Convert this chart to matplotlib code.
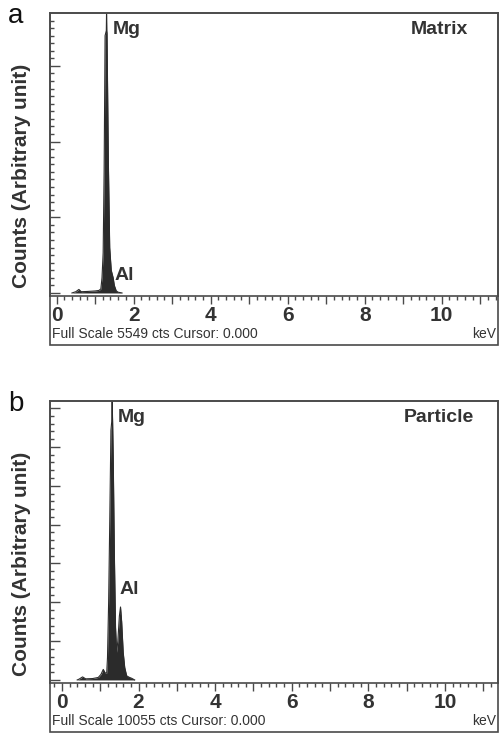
import matplotlib
matplotlib.use("Agg")
import matplotlib.pyplot as plt
from matplotlib.patches import Rectangle
from matplotlib.ticker import MultipleLocator, FixedLocator, FixedFormatter

plt.rcParams['font.family'] = ['Liberation Sans', 'DejaVu Sans']

# spectrum a (Matrix): energy in keV, counts
energy_a = [0.40, 0.50, 0.58, 0.64, 0.80, 1.00, 1.10, 1.15, 1.18, 1.21, 1.235,
            1.26, 1.292, 1.298, 1.304, 1.31, 1.345, 1.38, 1.42, 1.47, 1.50, 1.55,
            1.60, 1.70]
counts_a = [0, 25, 70, 25, 30, 40, 50, 80, 300, 800, 2400,
            5100, 5200, 5549, 5200, 5150, 2600, 900, 450, 300, 150, 40,
            15, 0]

# spectrum b (Particle)
energy_b = [0.40, 0.45, 0.54, 0.62, 0.80, 0.95, 1.02, 1.08, 1.13, 1.17, 1.19,
            1.22, 1.25, 1.28, 1.30, 1.312, 1.324, 1.34, 1.37, 1.40, 1.43, 1.46, 1.50,
            1.53, 1.56, 1.60, 1.64, 1.69, 1.75, 1.82, 1.90]
counts_b = [0, 30, 110, 40, 50, 90, 200, 380, 250, 250, 800,
            2800, 5800, 9000, 9300, 10055, 9300, 8000, 4500, 1900, 1000, 1400, 2300,
            2630, 2100, 1000, 450, 150, 100, 60, 0]

full_scale = [5549, 10055]
panel_letters = ['a', 'b']
sample_names = ['Matrix', 'Particle']
x_ticks = [0, 1, 2, 3, 4, 5, 6, 7, 8, 9, 10, 11]
x_tick_labels = ['0', '', '2', '', '4', '', '6', '', '8', '', '10', '']

W, H = 499, 735
fig = plt.figure(figsize=(W / 100, H / 100), dpi=100)
ink = '#333333'
edge = '#4a4a4a'

# pixel layout per panel: box top, axis line, box bottom
layout = [(13, 296, 345), (401, 683, 732)]
xlims = [(-0.17, 11.46), (-0.31, 11.38)]
ylims = [(-60, 5549), (-110, 10055)]
ymajor = [1500, 1400]
yminor = [150, 280]
peaks = [((113, 29), (115, 275)), ((118, 418), (120, 590))]
name_pos = [(468, 30), (474, 418)]

spectra = [(energy_a, counts_a), (energy_b, counts_b)]

for i in range(2):
    top, axis_y, bottom = layout[i]
    left, right = 50, 498
    ax = fig.add_axes([left / W, 1 - axis_y / H, (right - left) / W, (axis_y - top) / H])
    e, c = spectra[i]
    ax.fill_between(e, 0, c, color='#2b2b2b', lw=0)
    ax.plot(e, c, color='#2b2b2b', lw=0.8)
    ax.set_xlim(*xlims[i])
    ax.set_ylim(*ylims[i])

    for s in ax.spines.values():
        s.set_color(edge)
        s.set_linewidth(1.2)

    ax.xaxis.set_major_locator(FixedLocator(x_ticks))
    ax.xaxis.set_major_formatter(FixedFormatter(x_tick_labels))
    ax.xaxis.set_minor_locator(MultipleLocator(0.2))
    ax.tick_params(axis='x', which='major', direction='out', length=6, width=1,
                   color=edge, labelsize=15, labelcolor=ink, pad=1)
    ax.tick_params(axis='x', which='minor', direction='out', length=3, width=1, color=edge)
    for lab in ax.get_xticklabels():
        lab.set_fontweight('bold')

    ax.yaxis.set_major_locator(MultipleLocator(ymajor[i]))
    ax.yaxis.set_minor_locator(MultipleLocator(yminor[i]))
    ax.tick_params(axis='y', which='major', direction='in', length=7, width=1,
                   color=edge, labelleft=False)
    ax.tick_params(axis='y', which='minor', direction='in', length=3, width=1, color=edge)

    # outer instrument frame
    fig.patches.append(Rectangle((left / W, 1 - bottom / H), (right - left) / W,
                                 (bottom - top) / H, transform=fig.transFigure,
                                 fill=False, ec=edge, lw=1.2))

    (mgx, mgy), (alx, aly) = peaks[i]
    fig.text(mgx / W, 1 - mgy / H, 'Mg', fontsize=14, fontweight='bold', color=ink,
             ha='left', va='center')
    fig.text(alx / W, 1 - aly / H, 'Al', fontsize=14, fontweight='bold', color=ink,
             ha='left', va='center')
    nx, ny = name_pos[i]
    fig.text(nx / W, 1 - ny / H, sample_names[i], fontsize=14, fontweight='bold',
             color=ink, ha='right', va='center')

    fig.text(52 / W, 1 - (axis_y + 38) / H,
             'Full Scale %d cts Cursor: 0.000' % full_scale[i],
             fontsize=10, color=ink, ha='left', va='center')
    fig.text(496 / W, 1 - (axis_y + 38) / H, 'keV', fontsize=10, color=ink,
             ha='right', va='center')

    fig.text(22 / W, 1 - (top + 163) / H, 'Counts (Arbitrary unit)', fontsize=15,
             fontweight='bold', color=ink, rotation=90, ha='center', va='center')
    fig.text(16 / W, 1 - (top + 10) / H, panel_letters[i], fontsize=20, color='#111111',
             ha='center', va='baseline')

fig.savefig('out.png', dpi=100)
